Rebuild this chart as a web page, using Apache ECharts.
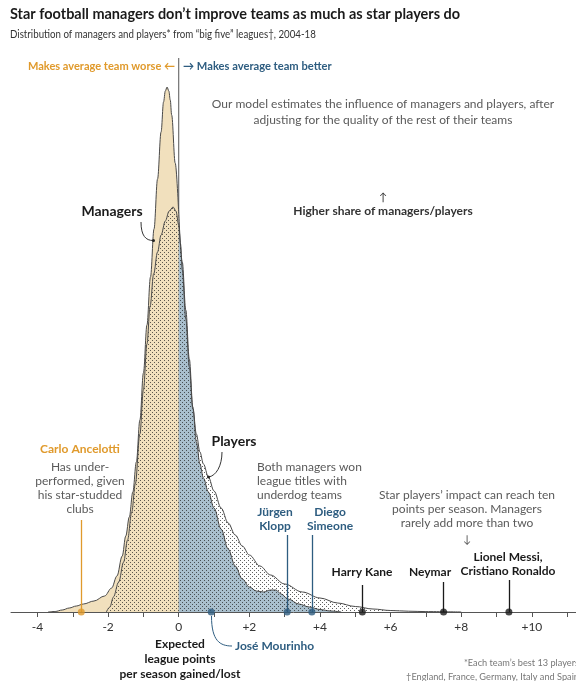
<!DOCTYPE html>
<html>
<head>
<meta charset="utf-8">
<script src="https://cdn.jsdelivr.net/npm/echarts@6/dist/echarts.min.js"></script>
<style>
  html, body { margin: 0; padding: 0; background: #fff; }
  #chart { width: 576px; height: 681px; }
</style>
</head>
<body>
<div id="chart"></div>
<script>
// expected league points per season (x) vs share of managers/players (y, relative)
var managersLeft = [
  [-3.7, 0], [-3.5, 0.005], [-3.3, 0.02], [-3.1, 0.04], [-2.9, 0.06], [-2.7, 0.08],
  [-2.4, 0.11], [-2.1, 0.16], [-1.9, 0.24], [-1.75, 0.36], [-1.6, 0.56], [-1.5, 0.76],
  [-1.4, 0.95], [-1.3, 1.2], [-1.2, 1.5], [-1.1, 1.92], [-1.0, 2.39], [-0.9, 2.87],
  [-0.8, 3.35], [-0.7, 3.83], [-0.6, 4.33], [-0.5, 4.8], [-0.43, 5.1], [-0.38, 5.21],
  [-0.33, 5.25], [-0.28, 5.21], [-0.24, 5.12], [-0.2, 4.97], [-0.1, 4.49], [0, 3.98]
];
var managersRight = [
  [0, 3.98], [0.1, 3.5], [0.2, 3.02], [0.3, 2.53], [0.4, 2.05], [0.5, 1.7], [0.6, 1.48],
  [0.7, 1.34], [0.84, 1.2], [1.0, 1.04], [1.2, 0.83], [1.4, 0.63], [1.6, 0.46], [1.8, 0.33],
  [2.0, 0.25], [2.2, 0.21], [2.4, 0.2], [2.6, 0.22], [2.75, 0.22], [2.9, 0.18], [3.1, 0.13],
  [3.4, 0.08], [3.7, 0.05], [4.0, 0.025], [4.3, 0.01], [4.6, 0]
];
var players = [
  [-2.05, 0], [-1.95, 0.05], [-1.85, 0.15], [-1.7, 0.3], [-1.56, 0.5], [-1.45, 0.72],
  [-1.33, 1.0], [-1.23, 1.28], [-1.1, 1.78], [-1.0, 2.22], [-0.9, 2.68], [-0.81, 3.06],
  [-0.71, 3.38], [-0.6, 3.6], [-0.5, 3.77], [-0.38, 3.91], [-0.27, 4.01], [-0.16, 4.05],
  [-0.08, 4.01], [0, 3.87], [0.05, 3.68], [0.1, 3.42], [0.2, 2.93], [0.3, 2.45], [0.4, 2.03],
  [0.5, 1.78], [0.6, 1.6], [0.7, 1.48], [0.84, 1.35], [1.0, 1.21], [1.2, 1.04], [1.4, 0.89],
  [1.6, 0.77], [1.8, 0.66], [2.0, 0.57], [2.3, 0.46], [2.6, 0.37], [3.0, 0.28], [3.5, 0.2],
  [4.0, 0.14], [4.5, 0.09], [5.0, 0.055], [5.5, 0.03], [6.0, 0.015], [6.5, 0.008],
  [7.0, 0.004], [8.0, 0]
];
// named people and their estimated impact
var peopleNames = ['Carlo Ancelotti', 'José Mourinho', 'Jürgen Klopp', 'Diego Simeone',
  'Harry Kane', 'Neymar', 'Lionel Messi, Cristiano Ronaldo'];
var peopleValues = [-2.76, 0.92, 3.07, 3.77, 5.2, 7.5, 9.35];
var tickValues = [-4, -3, -2, -1, 0, 1, 2, 3, 4, 5, 6, 7, 8, 9, 10, 11];
var labelValues = [-4, -2, 0, 2, 4, 6, 8, 10];

// styling
var ORANGE = '#e09a2c', BLUE = '#2e5d80', DARK = '#1a1a1a', GREY = '#5a5a5a';
var peopleColors = [ORANGE, BLUE, BLUE, BLUE, DARK, DARK, DARK];
var leaderLen = [0.92, 0, 0.77, 0.77, 0.27, 0.30, 0.32];
var FONT = 'Lato, "Open Sans", sans-serif';

function dotPattern() {
  var c = document.createElement('canvas');
  c.width = 4; c.height = 4;
  var ctx = c.getContext('2d');
  ctx.fillStyle = 'rgba(30,30,30,0.7)';
  ctx.fillRect(0, 0, 1, 1);
  ctx.fillRect(2, 2, 1, 1);
  return c;
}

var chart = echarts.init(document.getElementById('chart'), null, { renderer: 'canvas' });

var lineStyle = { color: '#4a4a4a', width: 1 };

function txt(x, y, text, opt) {
  opt = opt || {};
  return {
    type: 'text', x: x, y: y, z: 100, scaleX: opt.sx || 1,
    style: {
      text: text,
      fill: opt.color || GREY,
      font: (opt.weight || 'normal') + ' ' + (opt.size || 12) + 'px ' + FONT,
      textAlign: opt.align || 'left',
      textVerticalAlign: 'middle',
      lineHeight: opt.lh || 14
    }
  };
}

var leaders = [];
peopleValues.forEach(function (v, i) {
  if (leaderLen[i] > 0) {
    var ls = { color: peopleColors[i], width: 1.3, type: 'solid', opacity: 1 };
    leaders.push([
      { coord: [v, 0], lineStyle: ls },
      { coord: [v, leaderLen[i]], lineStyle: ls }
    ]);
  }
});

var option = {
  animation: false,
  grid: { left: 11, right: 0, top: 58, bottom: 69 },
  xAxis: {
    type: 'value', min: -4.75, max: 11.25,
    splitLine: { show: false },
    axisLine: { show: true, lineStyle: { color: '#555', width: 1 } },
    axisTick: { show: true, length: 5, customValues: tickValues, lineStyle: { color: '#555' } },
    axisLabel: {
      customValues: labelValues, color: '#333', fontSize: 12, fontFamily: FONT, margin: 9,
      formatter: function (v) { return v > 0 ? '+' + v : String(v); }
    }
  },
  yAxis: { type: 'value', min: 0, max: 5.54, show: false, splitLine: { show: false } },
  series: [
    {
      name: 'zero', type: 'line', z: 1, symbol: 'none', silent: true,
      data: [[0, 0], [0, 5.54]], lineStyle: { color: '#555', width: 1 }
    },
    {
      name: 'Managers', type: 'line', z: 2, symbol: 'none', smooth: 0.35, smoothMonotone: 'x',
      data: managersLeft, lineStyle: lineStyle, areaStyle: { color: '#f1e0bd', opacity: 1 }
    },
    {
      name: 'Managers ', type: 'line', z: 2, symbol: 'none', smooth: 0.35, smoothMonotone: 'x',
      data: managersRight, lineStyle: lineStyle, areaStyle: { color: '#a9bfcd', opacity: 1 }
    },
    {
      name: 'Players', type: 'line', z: 3, symbol: 'none', smooth: 0.35, smoothMonotone: 'x',
      data: players, lineStyle: lineStyle,
      areaStyle: { color: { image: dotPattern(), repeat: 'repeat' }, opacity: 1 }
    },
    {
      name: 'people', type: 'scatter', z: 5, symbolSize: 7,
      data: peopleValues.map(function (v, i) {
        return { name: peopleNames[i], value: [v, 0], itemStyle: { color: peopleColors[i] } };
      }),
      markLine: { silent: true, symbol: 'none', label: { show: false }, data: leaders }
    }
  ],
  graphic: [
    txt(10, 14, 'Star football managers don\u2019t improve teams as much as star players do',
      { color: DARK, weight: 'bold', size: 15, sx: 0.965 }),
    txt(10, 34, 'Distribution of managers and players* from \u201cbig five\u201d leagues\u2020, 2004-18',
      { color: '#333', size: 11.5, sx: 0.845 }),
    txt(175, 66, 'Makes average team worse \u2190', { color: ORANGE, align: 'right', weight: 'bold', size: 12, sx: 0.92 }),
    txt(183, 66, '\u2192 Makes average team better', { color: BLUE, weight: 'bold', size: 12, sx: 0.93 }),
    txt(383, 112, 'Our model estimates the influence of managers and players, after\nadjusting for the quality of the rest of their teams',
      { align: 'center', lh: 16 }),
    txt(383, 197, '\u2191', { color: '#333', align: 'center', size: 11 }),
    txt(383, 211, 'Higher share of managers/players', { color: '#333', align: 'center', weight: 'bold' }),
    txt(112, 211, 'Managers', { color: DARK, align: 'center', weight: 'bold', size: 14 }),
    txt(234, 441, 'Players', { color: DARK, align: 'center', weight: 'bold', size: 14 }),
    txt(80, 449, 'Carlo Ancelotti', { color: ORANGE, align: 'center', weight: 'bold' }),
    txt(80, 488, 'Has under-\nperformed, given\nhis star-studded\nclubs', { align: 'center' }),
    txt(257, 481, 'Both managers won\nleague titles with\nunderdog teams', {}),
    txt(275, 519, 'J\u00fcrgen\nKlopp', { color: BLUE, align: 'center', weight: 'bold' }),
    txt(330, 519, 'Diego\nSimeone', { color: BLUE, align: 'center', weight: 'bold' }),
    txt(467, 509, 'Star players\u2019 impact can reach ten\npoints per season. Managers\nrarely add more than two',
      { align: 'center' }),
    txt(467, 539, '\u2193', { align: 'center', size: 11 }),
    txt(362, 572, 'Harry Kane', { color: DARK, align: 'center', weight: 'bold' }),
    txt(430, 572, 'Neymar', { color: DARK, align: 'center', weight: 'bold' }),
    txt(508, 564, 'Lionel Messi,\nCristiano Ronaldo', { color: DARK, align: 'center', weight: 'bold' }),
    txt(235, 646, 'Jos\u00e9 Mourinho', { color: BLUE, weight: 'bold' }),
    txt(180, 659, 'Expected\nleague points\nper season gained/lost', { color: DARK, align: 'center', weight: 'bold', lh: 15 }),
    txt(579, 663, '*Each team\u2019s best 13 players', { align: 'right', size: 10, color: '#777', sx: 0.92 }),
    txt(579, 677, '\u2020England, France, Germany, Italy and Spain', { align: 'right', size: 10, color: '#777', sx: 0.92 }),
    {
      type: 'bezierCurve', z: 100,
      shape: { x1: 141, y1: 222, cpx1: 141, cpy1: 236, cpx2: 146, cpy2: 240.5, x2: 153, y2: 240.5 },
      style: { stroke: '#333', lineWidth: 1, fill: null }
    },
    { type: 'circle', z: 100, shape: { cx: 153.5, cy: 240.5, r: 1.5 }, style: { fill: '#222' } },
    {
      type: 'bezierCurve', z: 100,
      shape: { x1: 222, y1: 452, cpx1: 222, cpy1: 466, cpx2: 216, cpy2: 476, x2: 208.5, y2: 477 },
      style: { stroke: '#333', lineWidth: 1, fill: null }
    },
    { type: 'circle', z: 100, shape: { cx: 208.5, cy: 477, r: 1.5 }, style: { fill: '#222' } },
    {
      type: 'bezierCurve', z: 100,
      shape: { x1: 211.5, y1: 616, cpx1: 211.5, cpy1: 641, cpx2: 220, cpy2: 646, x2: 232, y2: 646 },
      style: { stroke: BLUE, lineWidth: 1, fill: null }
    }
  ]
};

chart.setOption(option);
</script>
</body>
</html>
